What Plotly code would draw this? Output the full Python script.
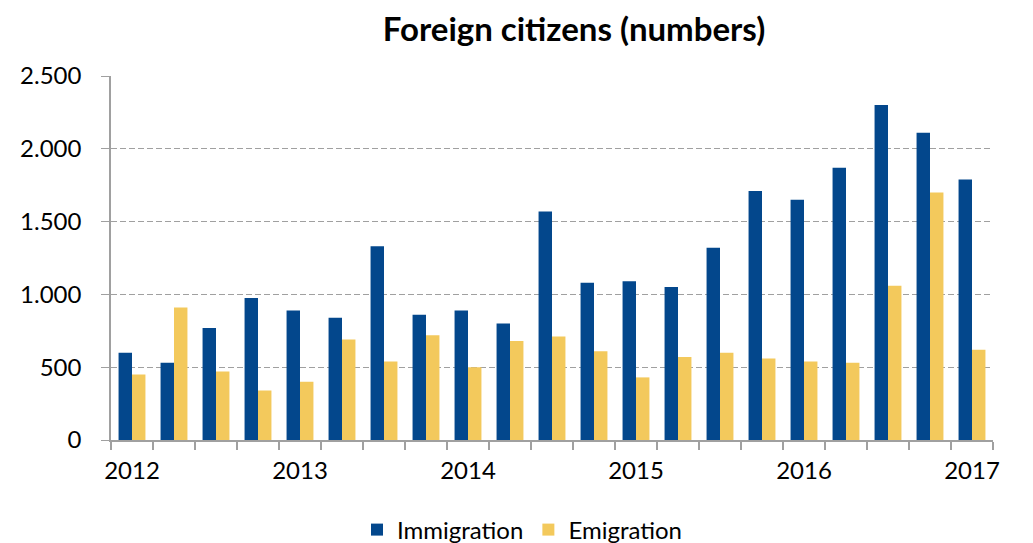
import plotly.graph_objects as go

quarters = [f"{y}Q{q}" for y in range(2012, 2018) for q in range(1, 5)][:21]
year_labels = ["2012", "2013", "2014", "2015", "2016", "2017"]
immigration = [600, 530, 770, 975, 890, 840, 1330, 860, 890, 800, 1570,
               1080, 1090, 1050, 1320, 1710, 1650, 1870, 2300, 2110, 1790]
emigration = [450, 910, 470, 340, 400, 690, 540, 720, 500, 680, 710,
              610, 430, 570, 600, 560, 540, 530, 1060, 1700, 620]

tick_text = [year_labels[i // 4] if i % 4 == 0 else "" for i in range(len(quarters))]

BLUE = "#03478C"
YELLOW = "#F3C95C"
GRAY = "#A0A0A0"
FONT = "Lato"

# the page body has an 8px margin, so the figure is sized/offset accordingly
W, H = 1025, 535

fig = go.Figure()
fig.add_trace(go.Bar(x=quarters, y=immigration, name="Immigration",
                     marker=dict(color=BLUE, line=dict(width=0))))
fig.add_trace(go.Bar(x=quarters, y=emigration, name="Emigration",
                     marker=dict(color=YELLOW, line=dict(width=0))))

fig.update_layout(
    width=W, height=H,
    margin=dict(l=100, r=40, t=68, b=103),
    paper_bgcolor="white", plot_bgcolor="white",
    font=dict(family=FONT, size=24, color="#000000"),
    separators=",.",
    barmode="group", bargap=0.36, bargroupgap=0,
    title=dict(text="<b>Foreign citizens (numbers)</b>", x=566 / W, xref="container",
               xanchor="center", y=1 - 21 / H, yref="container", yanchor="middle",
               font=dict(family=FONT, size=33, color="#000000")),
    legend=dict(orientation="h", xref="container", x=514 / W, xanchor="center",
                yref="container", y=13 / H, yanchor="middle",
                font=dict(family=FONT, size=24), itemwidth=30,
                traceorder="normal"),
    showlegend=True,
)
fig.update_xaxes(
    type="category", tickmode="array", tickvals=quarters, ticktext=tick_text,
    tickson="boundaries", ticks="outside", ticklen=8, tickcolor=GRAY, tickwidth=1.5,
    showline=True, linecolor=GRAY, linewidth=1.5, showgrid=False,
    ticklabelstandoff=8, tickangle=0,
)
fig.update_yaxes(
    range=[0, 2500], dtick=500, tickformat=",", ticks="outside", ticklen=8,
    tickcolor=GRAY, tickwidth=1, showline=True, linecolor=GRAY, linewidth=1.5,
    showgrid=True, gridcolor=GRAY, griddash="6px,3px", gridwidth=1, zeroline=False,
    ticklabelstandoff=15,
)

fig.write_html("out.html")
